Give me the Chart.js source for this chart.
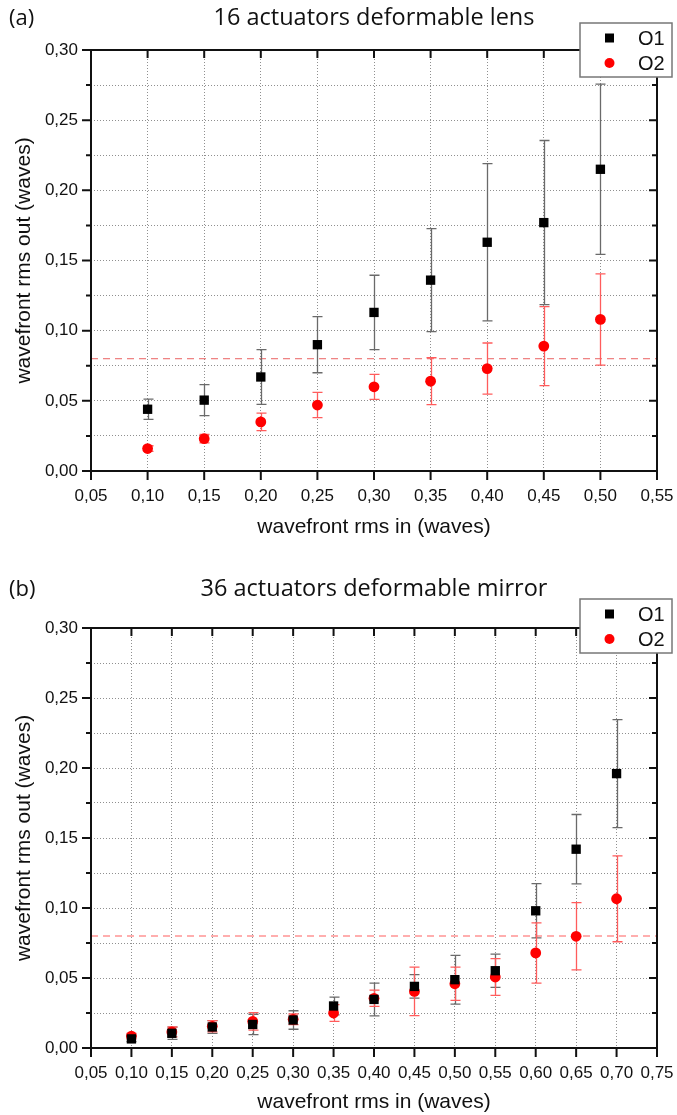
<!DOCTYPE html>
<html>
<head>
<meta charset="utf-8">
<script src="https://cdn.jsdelivr.net/npm/chart.js@4.4.1/dist/chart.umd.min.js"></script>
<style>
  html, body { margin: 0; padding: 0; background: #fff; overflow: hidden; }
  .panel { position: relative; width: 677px; }
  .panel canvas { display: block; }
  #wrapA { height: 560px; }
  #wrapB { height: 555px; }
</style>
</head>
<body>
<div class="panel" id="wrapA"><canvas id="chartA"></canvas></div>
<div class="panel" id="wrapB"><canvas id="chartB"></canvas></div>
<script>
// ── Textos ─────────────────────────────────────────────────────────────────────
const TITLE_A = '16 actuators deformable lens';
const TITLE_B = '36 actuators deformable mirror';
const X_LABEL = 'wavefront rms in (waves)';
const Y_LABEL = 'wavefront rms out (waves)';
const SERIES  = ['O1', 'O2'];
const THRESHOLD = 0.08;

// ── (a) lente deformável, 16 atuadores ────────────────────────────────────────
const lensX     = [0.10, 0.15, 0.20, 0.25, 0.30, 0.35, 0.40, 0.45, 0.50];
const lensO1    = [0.044, 0.0505, 0.067, 0.090, 0.113, 0.136, 0.163, 0.177, 0.215];
const lensO1Err = [0.0072, 0.011, 0.0195, 0.020, 0.0265, 0.0367, 0.056, 0.0585, 0.0607];
const lensO2    = [0.016, 0.023, 0.035, 0.047, 0.060, 0.064, 0.073, 0.089, 0.108];
const lensO2Err = [0.002, 0.003, 0.0062, 0.009, 0.0089, 0.0167, 0.0182, 0.0281, 0.0325];

// ── (b) espelho deformável, 36 atuadores ──────────────────────────────────────
const mirrorX     = [0.10, 0.15, 0.20, 0.25, 0.30, 0.35, 0.40, 0.45, 0.50, 0.55, 0.60, 0.65, 0.70];
const mirrorO1    = [0.0065, 0.0105, 0.015, 0.0168, 0.020, 0.030, 0.0347, 0.044, 0.0488, 0.0552, 0.098, 0.142, 0.196];
const mirrorO1Err = [0.002, 0.0044, 0.0045, 0.0073, 0.0066, 0.0064, 0.0117, 0.0084, 0.0174, 0.0119, 0.0194, 0.0248, 0.0386];
const mirrorO2    = [0.0085, 0.0115, 0.0155, 0.019, 0.0205, 0.025, 0.0355, 0.0404, 0.0459, 0.0507, 0.0679, 0.0798, 0.1066];
const mirrorO2Err = [0.002, 0.0035, 0.004, 0.0062, 0.0038, 0.006, 0.0058, 0.0173, 0.0119, 0.0131, 0.0215, 0.024, 0.0307];

const SANS  = "'Liberation Sans', Arial, sans-serif";
const TITLE = "'Open Sans', 'Noto Sans', sans-serif";
const GRID  = '#8f8f8f';

const fmt = v => v.toFixed(2).replace('.', ',');
const isMajor = v => Math.abs(v * 20 - Math.round(v * 20)) < 1e-6;

// ── Moldura, ticks, barras de erro, linha de referência e legenda ─────────────
const framePlugin = {
  id: 'frame',
  beforeDatasetsDraw(chart, args, opts) {
    const { ctx, chartArea: a, scales: { x, y } } = chart;

    const yr = y.getPixelForValue(opts.threshold);
    ctx.save();
    ctx.strokeStyle = opts.thresholdColor;
    ctx.lineWidth = opts.thresholdWidth;
    ctx.setLineDash([7, 5]);
    ctx.beginPath();
    ctx.moveTo(a.left, yr);
    ctx.lineTo(a.right, yr);
    ctx.stroke();
    ctx.restore();

    chart.data.datasets.forEach(ds => {
      ctx.save();
      ctx.strokeStyle = ds.errColor;
      ctx.lineWidth = 1.3;
      ds.data.forEach((p, i) => {
        const e = ds.err[i];
        const px = Math.round(x.getPixelForValue(p.x)) + 0.5;
        const y0 = y.getPixelForValue(p.y - e);
        const y1 = y.getPixelForValue(p.y + e);
        ctx.beginPath();
        ctx.moveTo(px, y0); ctx.lineTo(px, y1);
        ctx.moveTo(px - 5, y0); ctx.lineTo(px + 5, y0);
        ctx.moveTo(px - 5, y1); ctx.lineTo(px + 5, y1);
        ctx.stroke();
      });
      ctx.restore();
    });
  },
  afterDraw(chart, args, opts) {
    const { ctx, chartArea: a, scales: { x, y } } = chart;
    ctx.save();
    ctx.strokeStyle = '#111';
    ctx.lineWidth = 2;
    ctx.beginPath();
    y.ticks.forEach(t => {
      const py = y.getPixelForValue(t.value);
      const maj = isMajor(t.value);
      ctx.moveTo(a.left - (maj ? 9 : 5), py); ctx.lineTo(a.left, py);
      ctx.moveTo(a.right, py); ctx.lineTo(a.right - (maj ? 8 : 5), py);
    });
    x.ticks.forEach(t => {
      const px = x.getPixelForValue(t.value);
      ctx.moveTo(px, a.bottom); ctx.lineTo(px, a.bottom + 9);
      ctx.moveTo(px, a.top); ctx.lineTo(px, a.top + 8);
    });
    ctx.stroke();
    ctx.strokeRect(a.left, a.top, a.right - a.left, a.bottom - a.top);

    // títulos
    ctx.fillStyle = '#111';
    ctx.font = `23.5px ${TITLE}`;
    ctx.textBaseline = 'alphabetic';
    ctx.textAlign = 'center';
    ctx.fillText(opts.title, (a.left + a.right) / 2, opts.titleY);
    ctx.textAlign = 'left';
    ctx.font = `22px ${TITLE}`;
    ctx.fillText(opts.panel, 9, opts.titleY);

    // legenda
    const bx = a.right - 77, by = opts.legendTop, bw = 92, bh = 54;
    ctx.fillStyle = '#fff';
    ctx.fillRect(bx, by, bw, bh);
    ctx.strokeStyle = '#777';
    ctx.lineWidth = 1.5;
    ctx.strokeRect(bx, by, bw, bh);
    ctx.font = `20px ${SANS}`;
    ctx.textBaseline = 'middle';
    chart.data.datasets.forEach((ds, i) => {
      const cy = by + 15 + i * 25;
      ctx.fillStyle = ds.backgroundColor;
      if (ds.pointStyle === 'rect') {
        ctx.fillRect(bx + 25, cy - 4.5, 9, 9);
      } else {
        ctx.beginPath();
        ctx.arc(bx + 29.5, cy, 5, 0, Math.PI * 2);
        ctx.fill();
      }
      ctx.fillStyle = '#111';
      ctx.fillText(ds.label, bx + 58, cy + 1);
    });
    ctx.restore();
  },
};

function axisTitle(text, padding) {
  return { display: true, text, color: '#111', font: { family: SANS, size: 21 }, padding };
}

function buildPanel(canvasId, cfg) {
  const ctx = document.getElementById(canvasId);
  const pts = (xs, ys) => xs.map((v, i) => ({ x: v, y: ys[i] }));
  return new Chart(ctx, {
    type: 'scatter',
    data: {
      datasets: [
        {
          label: SERIES[0],
          data: pts(cfg.xs, cfg.o1),
          err: cfg.o1Err,
          errColor: '#6a6a6a',
          pointStyle: 'rect',
          pointRadius: 6.6,
          backgroundColor: '#000',
          borderWidth: 0,
        },
        {
          label: SERIES[1],
          data: pts(cfg.xs, cfg.o2),
          err: cfg.o2Err,
          errColor: '#ff5c5c',
          pointStyle: 'circle',
          pointRadius: 5.4,
          backgroundColor: '#ff0000',
          borderWidth: 0,
        },
      ],
    },
    options: {
      responsive: true,
      maintainAspectRatio: false,
      animation: false,
      events: [],
      layout: { padding: { top: cfg.padTop, right: 20, left: 0, bottom: 0 } },
      plugins: {
        legend: { display: false },
        tooltip: { enabled: false },
        frame: {
          threshold: THRESHOLD,
          thresholdColor: cfg.thresholdColor,
          thresholdWidth: cfg.thresholdWidth,
          title: cfg.title,
          panel: cfg.panel,
          titleY: cfg.titleY,
          legendTop: cfg.legendTop,
        },
      },
      scales: {
        x: {
          type: 'linear',
          min: 0.05,
          max: cfg.xMax,
          ticks: {
            stepSize: 0.05, autoSkip: false, maxRotation: 0, padding: 15,
            color: '#111', font: { family: SANS, size: 17 },
            callback: v => fmt(v),
          },
          grid: { color: GRID, drawTicks: false },
          border: { display: false, dash: [1, 2] },
          title: axisTitle(X_LABEL, { top: 0, bottom: cfg.xTitlePad }),
          afterFit(scale) {
            scale.height = cfg.xAxisH;
            scale.paddingLeft = 0;
            scale.paddingRight = 0;
          },
        },
        y: {
          min: 0,
          max: 0.3,
          ticks: {
            stepSize: 0.025, autoSkip: false, padding: 13,
            color: '#111', font: { family: SANS, size: 17 },
            callback: v => (isMajor(v) ? fmt(v) : ''),
          },
          grid: { color: GRID, drawTicks: false },
          border: { display: false, dash: [1, 2] },
          title: axisTitle(Y_LABEL, { top: 12, bottom: 0 }),
          afterFit(scale) {
            scale.width = 91;
            scale.paddingTop = 0;
            scale.paddingBottom = 0;
          },
        },
      },
    },
    plugins: [framePlugin],
  });
}

buildPanel('chartA', {
  xs: lensX, o1: lensO1, o1Err: lensO1Err, o2: lensO2, o2Err: lensO2Err,
  xMax: 0.55, padTop: 50, xAxisH: 89, xTitlePad: 20,
  title: TITLE_A, panel: '(a)', titleY: 25, legendTop: 23,
  thresholdColor: 'rgba(230,70,70,0.85)', thresholdWidth: 1,
});

buildPanel('chartB', {
  xs: mirrorX, o1: mirrorO1, o1Err: mirrorO1Err, o2: mirrorO2, o2Err: mirrorO2Err,
  xMax: 0.75, padTop: 68, xAxisH: 67, xTitlePad: 0,
  title: TITLE_B, panel: '(b)', titleY: 36, legendTop: 39,
  thresholdColor: 'rgba(255,120,120,0.8)', thresholdWidth: 1.5,
});
</script>
</body>
</html>
